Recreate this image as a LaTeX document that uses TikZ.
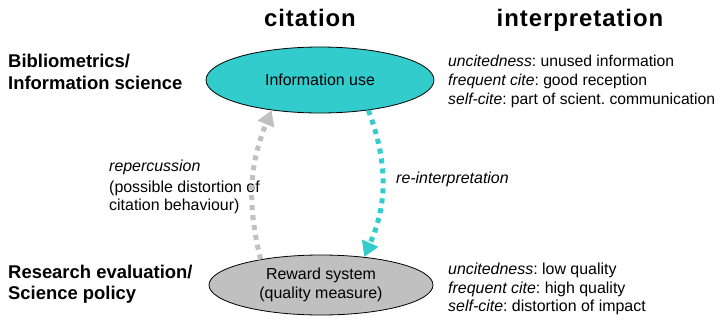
\documentclass[tikz,border=0pt]{standalone}
\usepackage{fontspec}
\setmainfont{Liberation Sans}
\usetikzlibrary{shapes.geometric,arrows.meta}
\frenchspacing
\begin{document}
\begin{tikzpicture}[x=1bp,y=1bp, every node/.style={font=\fontsize{16}{18.5}\selectfont, inner sep=0pt},
  flow/.style={line width=5bp, dash pattern=on 5bp off 5bp, -{Triangle[length=15bp,width=17bp]}}]
  \definecolor{infoCyan}{HTML}{33CCCC}
  \definecolor{rewGray}{HTML}{C0C0C0}
  \useasboundingbox (0,0) rectangle (720,320);
  % column heads
  \node[font=\bfseries\fontsize{24}{27}\selectfont\addfontfeatures{LetterSpace=4}, anchor=base] (hcit) at (310,294) {citation};
  \node[font=\bfseries\fontsize{24}{27}\selectfont\addfontfeatures{LetterSpace=4}, anchor=base] (hint) at (580,294) {interpretation};
  % fields
  \node[font=\bfseries\fontsize{18.5}{21.5}\selectfont, align=left, anchor=west] (fbib) at (8,248) {Bibliometrics/\\Information science};
  \node[font=\bfseries\fontsize{18.5}{21.5}\selectfont, align=left, anchor=west] (feval) at (8,36) {Research evaluation/\\Science policy};
  % the two systems
  \node[draw, line width=0.8bp, ellipse, fill=infoCyan, minimum width=228bp, minimum height=66bp] (inf) at (320,240) {Information use};
  \node[draw, line width=0.8bp, ellipse, fill=rewGray, minimum width=224bp, minimum height=60bp, align=center] (rew) at (321,35) {Reward system\\(quality measure)};
  % readings
  \node[font=\fontsize{15.75}{19}\selectfont, align=left, anchor=west] (tinf) at (448,238.5) {\textit{uncitedness}: unused information\\\textit{frequent cite}: good reception\\\textit{self-cite}: part of scient. communication};
  \node[align=left, anchor=west] (trew) at (448,31.1) {\textit{uncitedness}: low quality\\\textit{frequent cite}: high quality\\\textit{self-cite}: distortion of impact};
  \node[align=left, anchor=west] (trep) at (109,133.1) {\textit{repercussion}\\[2bp](possible distortion of\\citation behaviour)};
  \node[anchor=west] (treint) at (396,141.1) {\textit{re-interpretation}};
  % feedback
  \draw[flow, rewGray] (rew.157) to[bend left=18] (inf.212);
  \draw[flow, infoCyan] (inf.328) to[bend left=22] (rew.33);
\end{tikzpicture}
\end{document}
